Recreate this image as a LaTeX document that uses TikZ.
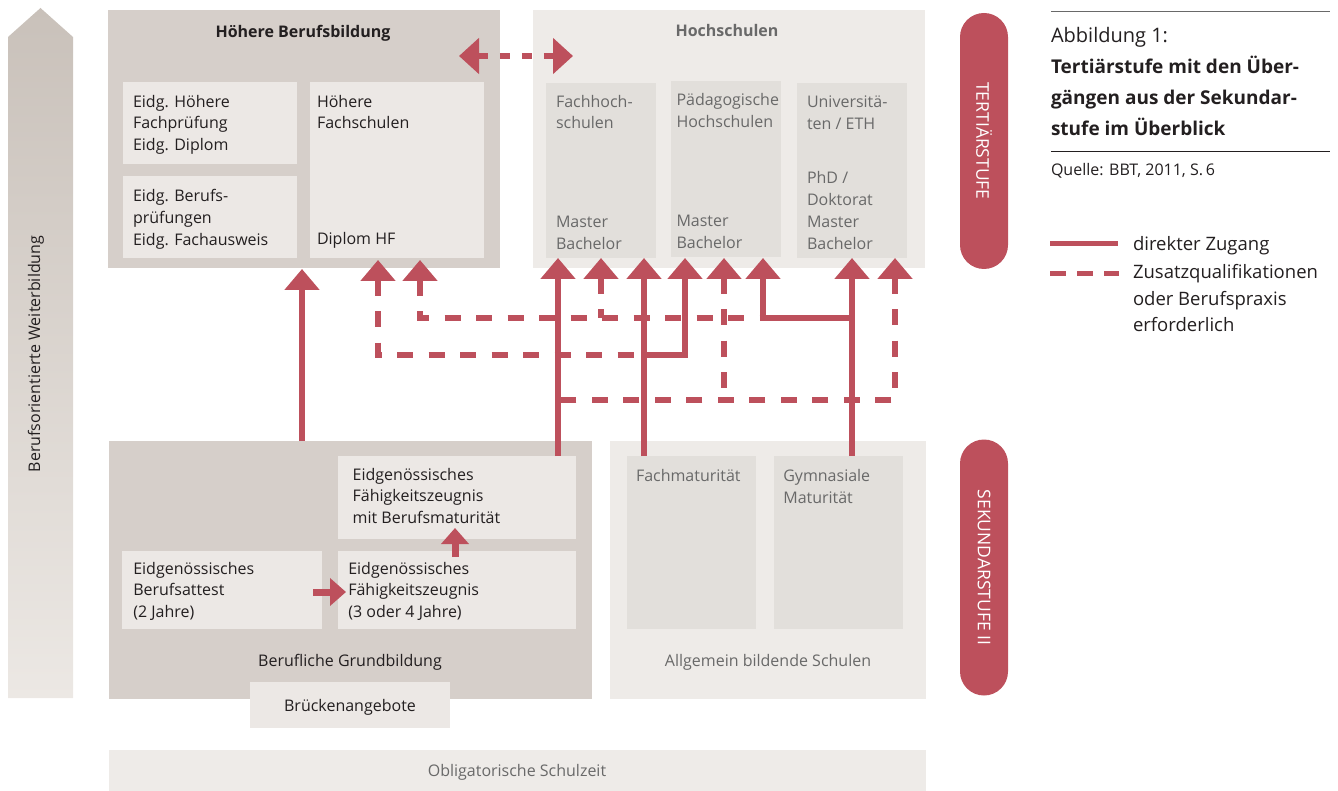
\documentclass[tikz,border=0pt]{standalone}
\usepackage{fontspec}
\setmainfont{Open Sans}
\usetikzlibrary{arrows.meta}
\definecolor{bdark}{RGB}{214,207,202}
\definecolor{blight}{RGB}{236,232,229}
\definecolor{hsout}{RGB}{238,235,232}
\definecolor{hsin}{RGB}{226,223,219}
\definecolor{myred}{RGB}{189,80,92}
\definecolor{tdark}{RGB}{35,31,32}
\definecolor{tgray}{RGB}{105,105,105}
\definecolor{arrtop}{RGB}{201,193,186}
\definecolor{arrbot}{RGB}{236,232,228}
\newcommand\bodyf{\fontsize{16}{21.7}\selectfont}
\newcommand\mlines[1]{\parbox[t]{9cm}{\raggedright #1}}
\tikzset{
  panel/.style={inner sep=0pt, outer sep=0pt, anchor=north west},
  txt/.style={anchor=base west, inner sep=0pt, outer sep=0pt, font=\bodyf, text=tdark},
  gtxt/.style={txt, text=tgray},
  ctxt/.style={anchor=base, inner sep=0pt, outer sep=0pt, font=\bodyf, text=tdark},
  pill/.style={fill=myred, text=white, rounded corners=24pt, minimum width=256pt, minimum height=48pt, inner sep=0pt, rotate=-90, font=\fontsize{17.5}{20}\selectfont},
  bigtip/.tip={Triangle[width=34pt,length=21pt]},
  smalltip/.tip={Triangle[width=27pt,length=16pt]},
  dbltip/.tip={Triangle[width=35pt,length=20pt]},
  solidc/.style={draw=myred, line width=5.5pt},
  dashc/.style={draw=myred, line width=5.5pt, dash pattern=on 16pt off 15.5pt},
}
\begin{document}
\begin{tikzpicture}[x=1pt,y=-1pt]
\useasboundingbox (0,0) rectangle (1338,791);

% left gradient arrow
\shade[top color=arrtop, bottom color=arrbot] (8,698) -- (8,37) -- (40.5,8) -- (73,37) -- (73,698) -- cycle;
\node[rotate=90, font=\bodyf, text=tdark, inner sep=0pt] (weiter) at (36,354) {Berufsorientierte Weiterbildung};

% Hoehere Berufsbildung
\node[panel, fill=bdark, minimum width=392pt, minimum height=258pt] (hbb) at (108,10) {};
\node[panel, fill=blight, minimum width=174pt, minimum height=82pt] (ehfbox) at (123,82) {};
\node[panel, fill=blight, minimum width=174pt, minimum height=82pt] (ebpbox) at (123,176) {};
\node[panel, fill=blight, minimum width=174pt, minimum height=176pt] (hfsbox) at (310,82) {};
\node[ctxt, font=\bodyf\bfseries] (hbbt) at (303,38) {Höhere Berufsbildung};
\node[txt] (ehf) at (133,107.3) {\mlines{Eidg. Höhere\\Fachprüfung\\Eidg. Diplom}};
\node[txt] (ebp) at (133,201.7) {\mlines{Eidg. Berufs-\\prüfungen\\Eidg. Fachausweis}};
\node[txt] (hfs) at (317,107.3) {\mlines{Höhere\\Fachschulen}};
\node[txt] (dhf) at (317,245) {Diplom HF};

% Hochschulen
\node[panel, fill=hsout, minimum width=392pt, minimum height=258pt] (hs) at (533,10) {};
\node[panel, fill=hsin, minimum width=110pt, minimum height=175pt] (fhbox) at (546,83) {};
\node[panel, fill=hsin, minimum width=110pt, minimum height=176pt] (phbox) at (671,81) {};
\node[panel, fill=hsin, minimum width=110pt, minimum height=175pt] (unibox) at (797,83) {};
\node[ctxt, font=\bodyf\bfseries, text=tgray] (hst) at (727,37) {Hochschulen};
\node[gtxt] (fh1) at (556,107.3) {\mlines{Fachhoch-\\schulen}};
\node[gtxt] (fh2) at (556,227.7) {\mlines{Master\\Bachelor}};
\node[gtxt] (ph1) at (676.5,105.5) {\mlines{Pädagogische\\Hochschulen}};
\node[gtxt] (ph2) at (676.5,226.5) {\mlines{Master\\Bachelor}};
\node[gtxt] (uni1) at (807,108) {\mlines{Universitä-\\ten / ETH}};
\node[gtxt] (uni2) at (807,184) {\mlines{PhD /\\Doktorat\\Master\\Bachelor}};

% Berufliche Grundbildung
\node[panel, fill=bdark, minimum width=483pt, minimum height=257.5pt] (bg) at (109,441) {};
\node[panel, fill=blight, minimum width=238pt, minimum height=82.5pt] (bmbox) at (338,456) {};
\node[panel, fill=blight, minimum width=200pt, minimum height=78pt] (ebabox) at (122,551) {};
\node[panel, fill=blight, minimum width=238pt, minimum height=78pt] (efzbox) at (338,551) {};
\node[panel, fill=blight, minimum width=200pt, minimum height=46pt] (brbox) at (250,682) {};
\node[txt] (bm) at (352.7,480) {\mlines{Eidgenössisches\\Fähigkeitszeugnis\\mit Berufsmaturität}};
\node[txt] (eba) at (133.3,574) {\mlines{Eidgenössisches\\Berufsattest\\(2 Jahre)}};
\node[txt] (efz) at (348.3,574) {\mlines{Eidgenössisches\\Fähigkeitszeugnis\\(3 oder 4 Jahre)}};
\node[ctxt] (bgt) at (350,666) {Berufliche Grundbildung};
\node[ctxt] (br) at (350,711.7) {Brückenangebote};

% Allgemein bildende Schulen
\node[panel, fill=hsout, minimum width=316pt, minimum height=257.5pt] (abs) at (610,441) {};
\node[panel, fill=hsin, minimum width=129pt, minimum height=173pt] (fmbox) at (627,456) {};
\node[panel, fill=hsin, minimum width=129pt, minimum height=173pt] (gmbox) at (774,456) {};
\node[gtxt] (fm) at (636,481.7) {Fachmaturität};
\node[gtxt] (gm) at (783.3,481.7) {\mlines{Gymnasiale\\Maturität}};
\node[ctxt, text=tgray] (abst) at (768,666) {Allgemein bildende Schulen};

% Obligatorische Schulzeit
\node[panel, fill=hsout, minimum width=817pt, minimum height=41pt] (obl) at (109,750) {};
\node[ctxt, text=tgray] (oblt) at (517,776.7) {Obligatorische Schulzeit};

% pills
\node[pill] (tert) at (984,141) {TERTIÄRSTUFE};
\node[pill] (sek) at (984,567.5) {SEKUNDARSTUFE II};

% legend / caption
\coordinate (r1a) at (1051,12); \coordinate (r1b) at (1330,12);
\coordinate (r2a) at (1051,152); \coordinate (r2b) at (1330,152);
\draw[draw=tgray, line width=1pt] (r1a) -- (r1b);
\draw[draw=tdark, line width=1pt] (r2a) -- (r2b);
\node[txt, font=\fontsize{20}{31}\selectfont] (abb) at (1051,42.7) {Abbildung 1:};
\node[txt, font=\fontsize{19}{31}\selectfont\bfseries] (title) at (1051,73.3) {\mlines{Tertiärstufe mit den Über-\\gängen aus der Sekundar-\\stufe im Überblick}};
\node[txt, font=\fontsize{16}{18}\selectfont] (quelle) at (1051,176) {Quelle: BBT, 2011, S.\,6};
\coordinate (l1a) at (1050,244); \coordinate (l1b) at (1118,244);
\coordinate (l2a) at (1050,274); \coordinate (l2b) at (1119,274);
\draw[draw=myred, line width=5pt] (l1a) -- (l1b);
\draw[draw=myred, line width=5pt, dash pattern=on 16pt off 11pt] (l2a) -- (l2b);
\node[txt, font=\fontsize{18.5}{26.5}\selectfont] (leg1) at (1133,250.7) {direkter Zugang};
\node[txt, font=\fontsize{18.5}{26.5}\selectfont] (leg2) at (1133,279) {\mlines{Zusatzqualifikationen\\oder Berufspraxis\\erforderlich}};

% connector coordinates
\coordinate (tHBB) at (302,269);
\coordinate (tHF1) at (378,260);
\coordinate (tHF2) at (420,260);
\coordinate (tFH1) at (558,258);
\coordinate (tFH2) at (601,258);
\coordinate (tFH3) at (644,258);
\coordinate (tPH1) at (685,258);
\coordinate (tPH2) at (724,258);
\coordinate (tPH3) at (763,258);
\coordinate (tU1) at (852,258);
\coordinate (tU2) at (895,258);
\coordinate (sBG) at (302,441);
\coordinate (sBM) at (558,456);
\coordinate (sFM) at (644,456);
\coordinate (sGM) at (852,456);
\coordinate (jF) at (644,355);
\coordinate (jG) at (852,318);
\coordinate (jG2) at (763,318);
\coordinate (jB) at (558,400);

% solid connectors
\draw[solidc, -bigtip] (sBG) -- (tHBB);
\draw[solidc, -bigtip] (sBM) -- (tFH1);
\draw[solidc, -bigtip] (sFM) -- (tFH3);
\draw[solidc, -bigtip] (sGM) -- (tU1);
\draw[solidc, -bigtip] (jF) -- (jF -| tPH1) -- (tPH1);
\draw[solidc, -bigtip] (jG) -- (jG2) -- (tPH3);

% dashed connectors
\draw[dashc, bigtip-] (tHF1) -- (tHF1 |- jF) -- (jF);
\draw[dashc, bigtip-] (tHF2) -- (tHF2 |- jG2) -- (jG2);
\draw[dashc, bigtip-] (tFH2) -- (tFH2 |- jG2);
\draw[dashc, bigtip-] (tU2) -- (tU2 |- jB) -- (jB);
\draw[dashc, bigtip-] (tPH2) -- (tPH2 |- jB);

% double arrow between HBB and Hochschulen
\coordinate (dl) at (459,56); \coordinate (dr) at (573,56);
\draw[draw=myred, line width=6.5pt, dash pattern=on 10pt off 12pt, dbltip-dbltip] (dl) -- (dr);

% small arrows
\coordinate (sa1) at (313,592); \coordinate (sa2) at (346,592);
\coordinate (sb1) at (455,557); \coordinate (sb2) at (455,528);
\draw[draw=myred, line width=7pt, -smalltip] (sa1) -- (sa2);
\draw[draw=myred, line width=7pt, -smalltip] (sb1) -- (sb2);
\end{tikzpicture}
\end{document}
